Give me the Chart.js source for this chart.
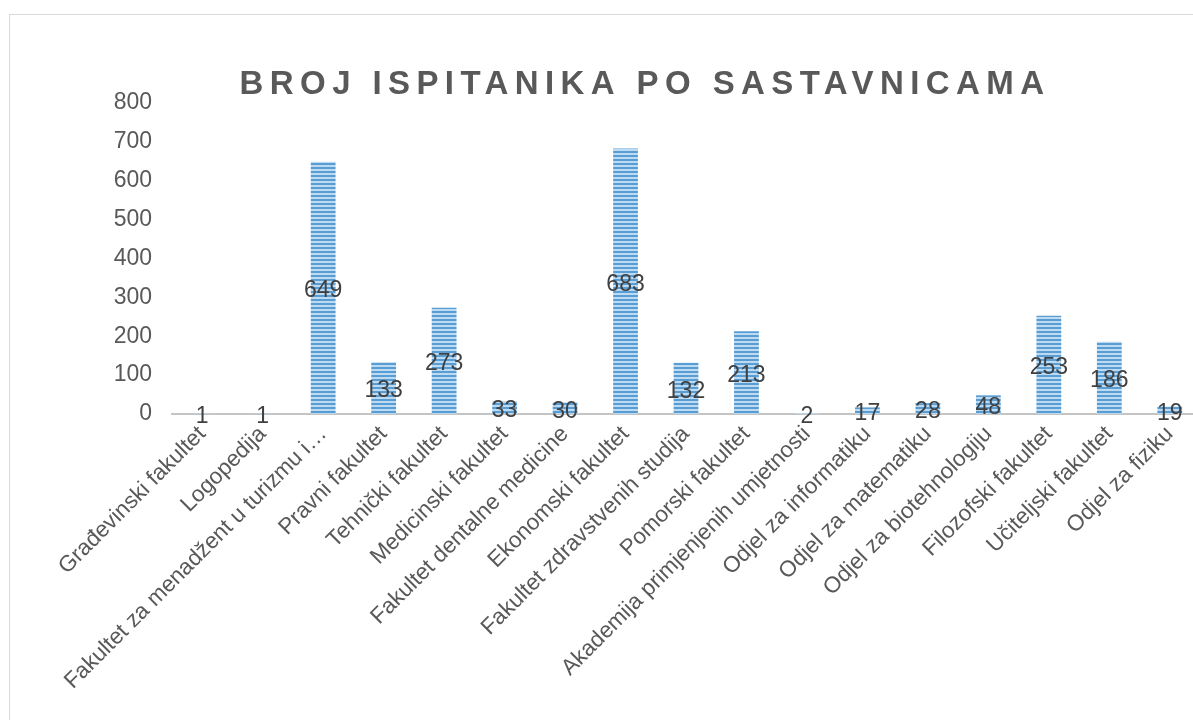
<!DOCTYPE html>
<html>
<head>
<meta charset="utf-8">
<script src="https://cdn.jsdelivr.net/npm/chart.js@4"></script>
<style>
    html, body { margin: 0; padding: 0; background: #fff; overflow: hidden; }
    #box {
        position: absolute; left: 9px; top: 14px;
        width: 1200px; height: 720px;
        border: 1px solid #d9d9d9;
    }
    #myChart { display: block; }
</style>
</head>
<body>
<div id="box"><canvas id="myChart" width="1200" height="705"></canvas></div>
<script>
const chartTitle = 'BROJ ISPITANIKA PO SASTAVNICAMA';
const categories = [
    'Građevinski fakultet',
    'Logopedija',
    'Fakultet za menadžent u turizmu i…',
    'Pravni fakultet',
    'Tehnički fakultet',
    'Medicinski fakultet',
    'Fakultet dentalne medicine',
    'Ekonomski fakultet',
    'Fakultet zdravstvenih studija',
    'Pomorski fakultet',
    'Akademija primjenjenih umjetnosti',
    'Odjel za informatiku',
    'Odjel za matematiku',
    'Odjel za biotehnologiju',
    'Filozofski fakultet',
    'Učiteljski fakultet',
    'Odjel za fiziku'
];
const respondents = [1, 1, 649, 133, 273, 33, 30, 683, 132, 213, 2, 17, 28, 48, 253, 186, 19];
const yMin = 0, yMax = 800, yStep = 100;

const FONT = '"Liberation Sans", Arial, sans-serif';

// horizontal stripe fill like the original
function stripePattern(ctx) {
    const c = document.createElement('canvas');
    c.width = 4; c.height = 4;
    const p = c.getContext('2d');
    p.fillStyle = '#bcdaf2';
    p.fillRect(0, 0, 4, 4);
    p.fillStyle = '#5a9dd3';
    p.fillRect(0, 0, 4, 2);
    return ctx.createPattern(c, 'repeat');
}

const titlePlugin = {
    id: 'spacedTitle',
    afterDraw(chart) {
        const ctx = chart.ctx;
        ctx.save();
        ctx.font = 'bold 33px ' + FONT;
        ctx.fillStyle = '#595959';
        ctx.letterSpacing = '6.4px';
        ctx.textAlign = 'center';
        ctx.textBaseline = 'middle';
        ctx.fillText(chartTitle, 635, 70);
        ctx.restore();
    }
};

const valueLabels = {
    id: 'valueLabels',
    afterDatasetsDraw(chart) {
        const ctx = chart.ctx;
        ctx.save();
        ctx.font = '23px ' + FONT;
        ctx.fillStyle = '#404040';
        ctx.textAlign = 'center';
        ctx.textBaseline = 'middle';
        chart.getDatasetMeta(0).data.forEach((bar, i) => {
            const y = (bar.y + bar.base) / 2;
            ctx.fillText(String(respondents[i]), bar.x, y + 3);
        });
        ctx.restore();
    }
};

function buildChart() {
    const ctx = document.getElementById('myChart').getContext('2d');
    const fill = stripePattern(ctx);

    const data = {
        labels: categories,
        datasets: [
            {
                label: 'Broj ispitanika',
                data: respondents,
                backgroundColor: fill,
                borderWidth: 0,
                barPercentage: 0.41,
                categoryPercentage: 1.0,
            }
        ]
    };

    const config = {
        type: 'bar',
        data: data,
        options: {
            responsive: false,
            animation: false,
            layout: {
                padding: { top: 88, right: 10, left: 0, bottom: 0 }
            },
            plugins: {
                legend: { display: false },
                title: { display: false },
                tooltip: { enabled: false }
            },
            scales: {
                x: {
                    grid: { display: false, drawTicks: false },
                    border: { display: true, color: '#c4c4c4', width: 2 },
                    ticks: {
                        color: '#595959',
                        font: { family: FONT, size: 22.5 },
                        maxRotation: 45,
                        minRotation: 45,
                        autoSkip: false,
                        padding: 7
                    },
                    afterFit: (s) => { s.height = 306; }
                },
                y: {
                    min: yMin,
                    max: yMax,
                    grid: { display: false, drawTicks: false },
                    border: { display: false },
                    ticks: {
                        stepSize: yStep,
                        color: '#595959',
                        font: { family: FONT, size: 23 },
                        padding: 20
                    },
                    afterFit: (s) => { s.width = 162; }
                }
            }
        },
        plugins: [titlePlugin, valueLabels]
    };

    new Chart(ctx, config);
}

buildChart();
</script>
</body>
</html>
